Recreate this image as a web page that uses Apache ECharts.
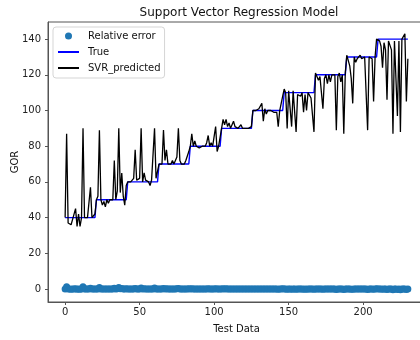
<!DOCTYPE html>
<html>
<head>
<meta charset="utf-8">
<script src="https://cdn.jsdelivr.net/npm/echarts@6/dist/echarts.min.js"></script>
<style>
  html, body { margin: 0; padding: 0; background: #fff; }
  #main { width: 420px; height: 340px; }
</style>
</head>
<body>
<div id="main"></div>
<script>
// true GOR, one step every 21 test samples
let trueGor = [
  40,40,40,40,40,40,40,40,40,40,40,40,40,40,40,40,40,40,40,40,40,
  50,50,50,50,50,50,50,50,50,50,50,50,50,50,50,50,50,50,50,50,50,
  60,60,60,60,60,60,60,60,60,60,60,60,60,60,60,60,60,60,60,60,60,
  70,70,70,70,70,70,70,70,70,70,70,70,70,70,70,70,70,70,70,70,70,
  80,80,80,80,80,80,80,80,80,80,80,80,80,80,80,80,80,80,80,80,80,
  90,90,90,90,90,90,90,90,90,90,90,90,90,90,90,90,90,90,90,90,90,
  100,100,100,100,100,100,100,100,100,100,100,100,100,100,100,100,100,100,100,100,100,
  110,110,110,110,110,110,110,110,110,110,110,110,110,110,110,110,110,110,110,110,110,
  120,120,120,120,120,120,120,120,120,120,120,120,120,120,120,120,120,120,120,120,120,
  130,130,130,130,130,130,130,130,130,130,130,130,130,130,130,130,130,130,130,130,130,
  140,140,140,140,140,140,140,140,140,140,140,140,140,140,140,140,140,140,140,140,140
];

let svrPredicted = [
  40,87,37,38,36,39,38,45,35,42,35,40,90,40,41,40,41,57,40,41,42,
  50,52,89,50,47,49,46,50,48,50,51,50,72,50,55,90,54,65,52,47,58,
  60,61,60,61,62,78,61,60,62,90,60,65,61,62,60,58,61,60,90,62,63,
  70,71,70,89,72,78,70,71,70,72,70,71,74,90,72,70,71,70,72,71,77,
  80,87,80,83,80,81,79,80,80,79,80,82,86,80,82,80,81,91,77,80,81,
  90,95,92,95,91,93,90,92,94,91,92,90,91,92,90,91,90,89,90,89,91,
  100,101,100,99,101,100,104,94,101,98,100,101,100,101,99,100,99,91,100,101,108,
  112,110,90,111,110,91,111,110,88,109,110,108,110,99,109,100,110,109,107,106,88,
  121,120,117,119,120,101,118,120,115,120,116,120,119,120,89,119,121,116,120,87,121,
  131,130,125,118,104,130,127,129,130,131,129,130,130,131,89,130,129,129,105,130,140,
  140,139,136,124,138,134,106,139,138,134,87,139,138,97,139,88,140,141,143,105,129
];

let relativeError = [
  0,1.18,-0.08,-0.05,-0.1,-0.03,-0.05,0.13,-0.13,0.05,-0.13,0,1.25,0,0.03,0,0.03,0.43,0,0.03,0.05,
  0,0.04,0.78,0,-0.06,-0.02,-0.08,0,-0.04,0,0.02,0,0.44,0,0.1,0.8,0.08,0.3,0.04,-0.06,0.16,
  0,0.02,0,0.02,0.03,0.3,0.02,0,0.03,0.5,0,0.08,0.02,0.03,0,-0.03,0.02,0,0.5,0.03,0.05,
  0,0.01,0,0.27,0.03,0.11,0,0.01,0,0.03,0,0.01,0.06,0.29,0.03,0,0.01,0,0.03,0.01,0.1,
  0,0.09,0,0.04,0,0.01,-0.01,0,0,-0.01,0,0.03,0.08,0,0.03,0,0.01,0.14,-0.04,0,0.01,
  0,0.06,0.02,0.06,0.01,0.03,0,0.02,0.04,0.01,0.02,0,0.01,0.02,0,0.01,0,-0.01,0,-0.01,0.01,
  0,0.01,0,-0.01,0.01,0,0.04,-0.06,0.01,-0.02,0,0.01,0,0.01,-0.01,0,-0.01,-0.09,0,0.01,0.08,
  0.02,0,-0.18,0.01,0,-0.17,0.01,0,-0.2,-0.01,0,-0.02,0,-0.1,-0.01,-0.09,0,-0.01,-0.03,-0.04,-0.2,
  0.01,0,-0.03,-0.01,0,-0.16,-0.02,0,-0.04,0,-0.03,0,-0.01,0,-0.26,-0.01,0.01,-0.03,0,-0.28,0.01,
  0.01,0,-0.04,-0.09,-0.2,0,-0.02,-0.01,0,0.01,-0.01,0,0,0.01,-0.32,0,-0.01,-0.01,-0.19,0,0.08,
  0,-0.01,-0.03,-0.11,-0.01,-0.04,-0.24,-0.01,-0.01,-0.04,-0.38,-0.01,-0.01,-0.31,-0.01,-0.37,0,0.01,0.02,-0.25,-0.08
];

let xTicks = [0, 50, 100, 150, 200];
let yTicks = [0, 20, 40, 60, 80, 100, 120, 140];

function pairs(arr) {
  return arr.map((v, i) => [i, v]);
}

let myChart = echarts.init(document.getElementById('main'));
let font = 'DejaVu Sans';
let noMarker = { color: 'rgba(0,0,0,0)', borderWidth: 0 };

let option = {
  animation: false,
  backgroundColor: '#fff',
  title: {
    text: 'Support Vector Regression Model',
    left: 234,
    textAlign: 'center',
    top: 2,
    textStyle: { fontFamily: font, fontSize: 12, fontWeight: 'normal', color: '#111' }
  },
  legend: {
    orient: 'vertical',
    left: 53,
    top: 27,
    padding: [4, 4, 5, 4],
    itemWidth: 21,
    itemHeight: 7,
    itemGap: 6,
    borderColor: '#d5d5d5',
    borderWidth: 1,
    borderRadius: 3,
    textStyle: { fontFamily: font, fontSize: 10, color: '#111', padding: [0, 0, 0, 4] },
    data: [
      { name: 'Relative error', icon: 'circle' },
      { name: 'True', itemStyle: noMarker },
      { name: 'SVR_predicted', itemStyle: noMarker }
    ]
  },
  grid: {
    show: true,
    left: 48,
    top: 22,
    width: 377,
    height: 280,
    outerBoundsMode: 'none',
    containLabel: false,
    borderColor: '#555',
    borderWidth: 1
  },
  xAxis: {
    type: 'value',
    min: -11.5,
    max: 241.5,
    name: 'Test Data',
    nameLocation: 'middle',
    nameGap: 22,
    nameMoveOverlap: false,
    nameTextStyle: { fontFamily: font, fontSize: 10, color: '#111' },
    axisLine: { onZero: false, lineStyle: { color: '#555' } },
    axisTick: { customValues: xTicks, length: 3, lineStyle: { color: '#555' } },
    axisLabel: { customValues: xTicks, fontFamily: font, fontSize: 10, color: '#222', margin: 5 },
    splitLine: { show: false }
  },
  yAxis: {
    type: 'value',
    min: -7.3,
    max: 149.6,
    name: 'GOR',
    nameLocation: 'middle',
    nameGap: 28,
    nameMoveOverlap: false,
    nameTextStyle: { fontFamily: font, fontSize: 10, color: '#111' },
    axisLine: { show: true, onZero: false, lineStyle: { color: '#555' } },
    axisTick: { show: true, customValues: yTicks, length: 3, lineStyle: { color: '#555' } },
    axisLabel: { customValues: yTicks, fontFamily: font, fontSize: 10, color: '#222', margin: 7 },
    splitLine: { show: false }
  },
  series: [
    {
      name: 'Relative error',
      type: 'scatter',
      symbolSize: 7,
      itemStyle: { color: '#1f77b4', opacity: 1 },
      data: pairs(relativeError)
    },
    {
      name: 'True',
      type: 'line',
      symbol: 'none',
      lineStyle: { color: '#0000ff', width: 1.4 },
      itemStyle: { color: '#0000ff' },
      data: pairs(trueGor)
    },
    {
      name: 'SVR_predicted',
      type: 'line',
      symbol: 'none',
      lineStyle: { color: '#000', width: 1.3 },
      itemStyle: { color: '#000' },
      data: pairs(svrPredicted)
    }
  ]
};
myChart.setOption(option);
</script>
</body>
</html>
